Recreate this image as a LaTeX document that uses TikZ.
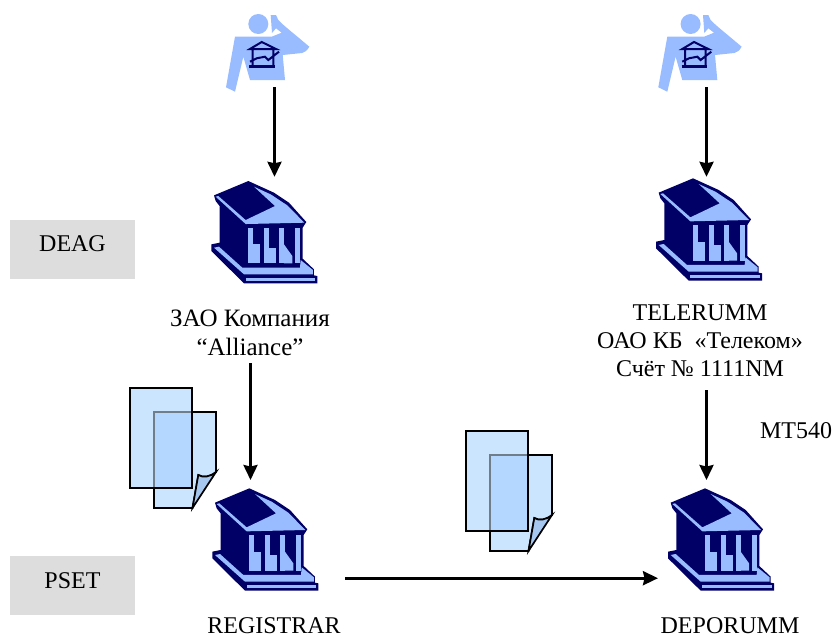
\documentclass[tikz,border=0pt]{standalone}
\usepackage{fontspec}
\setmainfont{Liberation Serif}
\usetikzlibrary{arrows.meta}
\definecolor{navyi}{HTML}{000066}
\definecolor{lightb}{HTML}{99BBFF}
\definecolor{sheet}{HTML}{CCE5FF}
\definecolor{overlap}{HTML}{B3D7FF}
\definecolor{foldc}{HTML}{A6C8F0}
\definecolor{greybox}{HTML}{DDDDDD}
\tikzset{
  x=1pt,y=-1pt,
  lbl/.style={font=\fontsize{24}{28}\selectfont,inner sep=0pt,align=center},
  tagbox/.style={fill=greybox,minimum width=125pt,minimum height=59pt,inner sep=0pt},
  taglbl/.style={font=\fontsize{24}{28}\selectfont,inner sep=0pt},
  anchorbox/.style={inner sep=0pt,minimum width=2pt},
  conn/.style={-{Stealth[length=15pt,width=14pt,inset=1.5pt]},line width=2.8pt,black},
  sheetline/.style={draw=black,line width=1.7pt,line join=miter}
}
% bank icon: #1,#2 = origin; local coordinates are traced in 3x pixels
\newcommand{\bankicon}[2]{%
\begin{scope}[shift={(#1,#2)},x=0.3333pt,y=-0.3333pt]
 \fill[navyi] (148,25)--(45,68)--(50,85)--(62,100)--(62,210)--(37,215)--(37,235)--(135,332)--(355,332)--(355,310)--(345,308)--(345,290)--(311,258)--(311,165)--(322,148)--(270,90)--(225,60)--cycle;
 \fill[lightb] (50,72)--(58,70)--(140,142)--(228,100)--(165,42)--(215,65)--(265,98)--(316,150)--(140,154)--cycle;
 \fill[lightb] (148,165) rectangle (163,272);
 \fill[lightb] (163,215) rectangle (183,272);
 \fill[lightb] (195,165) rectangle (210,272);
 \fill[lightb] (210,225) rectangle (232,272);
 \fill[lightb] (240,165) rectangle (255,272);
 \fill[lightb] (255,215)--(280,250)--(280,272)--(255,272)--cycle;
 \fill[lightb] (288,165) rectangle (304,272);
 \fill[lightb] (45,225)--(60,222)--(130,285)--(303,285)--(305,262)--(342,292)--(342,305)--(135,305)--cycle;
 \fill[lightb] (140,315) rectangle (348,325);
\end{scope}}
% person icon: #1,#2 = origin
\newcommand{\personicon}[2]{%
\begin{scope}[shift={(#1,#2)}]
 \fill[lightb] (58.3,24) circle (10);
 \fill[lightb] (70.7,15)--(76,15)--(78.3,20) .. controls (84,26) and (92,32) .. (109.3,46.7) .. controls (107,51) and (105,52) .. (102,53)--(82.7,55)--(85,80)--(50,80)--(43.3,56.7)--(35,91.7)--(26,87.3)--(35,36.7)--(71.7,36.7)--(81.7,32.7)--(76,28.3)--(72,33)--cycle;
 \draw[navyi,line width=2pt] (50,49)--(61.7,42)--(76,49)--cycle (52.7,50)--(52.7,66) (73.3,50)--(73.3,66) (50,61.7)--(56.7,58.3)--(65,56.7)--(68.3,60)--(79,51.7);
 \draw[navyi,line width=3pt] (49.3,66.5)--(75,66.5);
\end{scope}}
\newcommand{\docicon}[2]{%
\begin{scope}[shift={(#1,#2)}]
 \filldraw[fill=sheet,sheetline] (154,412)--(216,412)--(216,472) .. controls (210,477) and (203,478) .. (198.3,475)--(192.5,508)--(154,508)--cycle;
 \fill[foldc] (198.3,475) .. controls (203,478) and (210,477) .. (216,472)--(192.5,508)--cycle;
 \draw[sheetline] (198.3,475) .. controls (203,478) and (210,477) .. (216,472)--(192.5,508)--cycle;
 \fill[sheet] (130,388) rectangle (192,488);
 \fill[overlap] (154,412) rectangle (192,488);
 \draw[black!45!sheet,line width=1.7pt] (192,412)--(154,412)--(154,488);
 \draw[sheetline] (130,388) rectangle (192,488);
\end{scope}}
\begin{document}
\begin{tikzpicture}
\useasboundingbox (0,0) rectangle (832,637);
\node[tagbox] (deag) at (72.5,249.5) {};
\node[taglbl] (deagt) at (72.5,244) {DEAG};
\node[tagbox] (pset) at (72.5,585.5) {};
\node[taglbl] (psett) at (72.5,581) {PSET};
\docicon{0}{0}
\docicon{336}{43}
\personicon{200}{0}
\personicon{632.3}{0}
\bankicon{199}{172.7}
\bankicon{643.7}{170}
\bankicon{200}{480}
\bankicon{655.7}{480}
\node[anchorbox,minimum height=74pt] (p1) at (274.5,50) {};
\node[anchorbox,minimum height=74pt] (p2) at (706.5,50) {};
\node[anchorbox,minimum height=108pt] (b1) at (274.5,231) {};
\node[anchorbox,minimum height=108pt] (b2) at (706.5,231) {};
\node[lbl,font=\fontsize{25}{29}\selectfont] (t1) at (250,333) {ЗАО Компания\\“Alliance”};
\node[lbl] (t2) at (700,341) {TELERUMM\\ОАО КБ \ «Телеком»\\Счёт № 1111NM};
\node[lbl] (mt) at (796,431) {MT540};
\node[lbl] (t3) at (274,626) {REGISTRAR};
\node[lbl] (t4) at (730,626) {DEPORUMM};
\coordinate (r1) at (250.5,480);
\coordinate (d1) at (706.5,480);
\coordinate (ra) at (345,578.2);
\coordinate (da) at (658,578.2);
\coordinate (t1a) at (250.5,363);
\coordinate (t2a) at (706.5,390);
\draw[conn] (p1.south)--(b1.north);
\draw[conn] (p2.south)--(b2.north);
\draw[conn] (t1a)--(r1);
\draw[conn] (t2a)--(d1);
\draw[conn] (ra)--(da);
\end{tikzpicture}
\end{document}
